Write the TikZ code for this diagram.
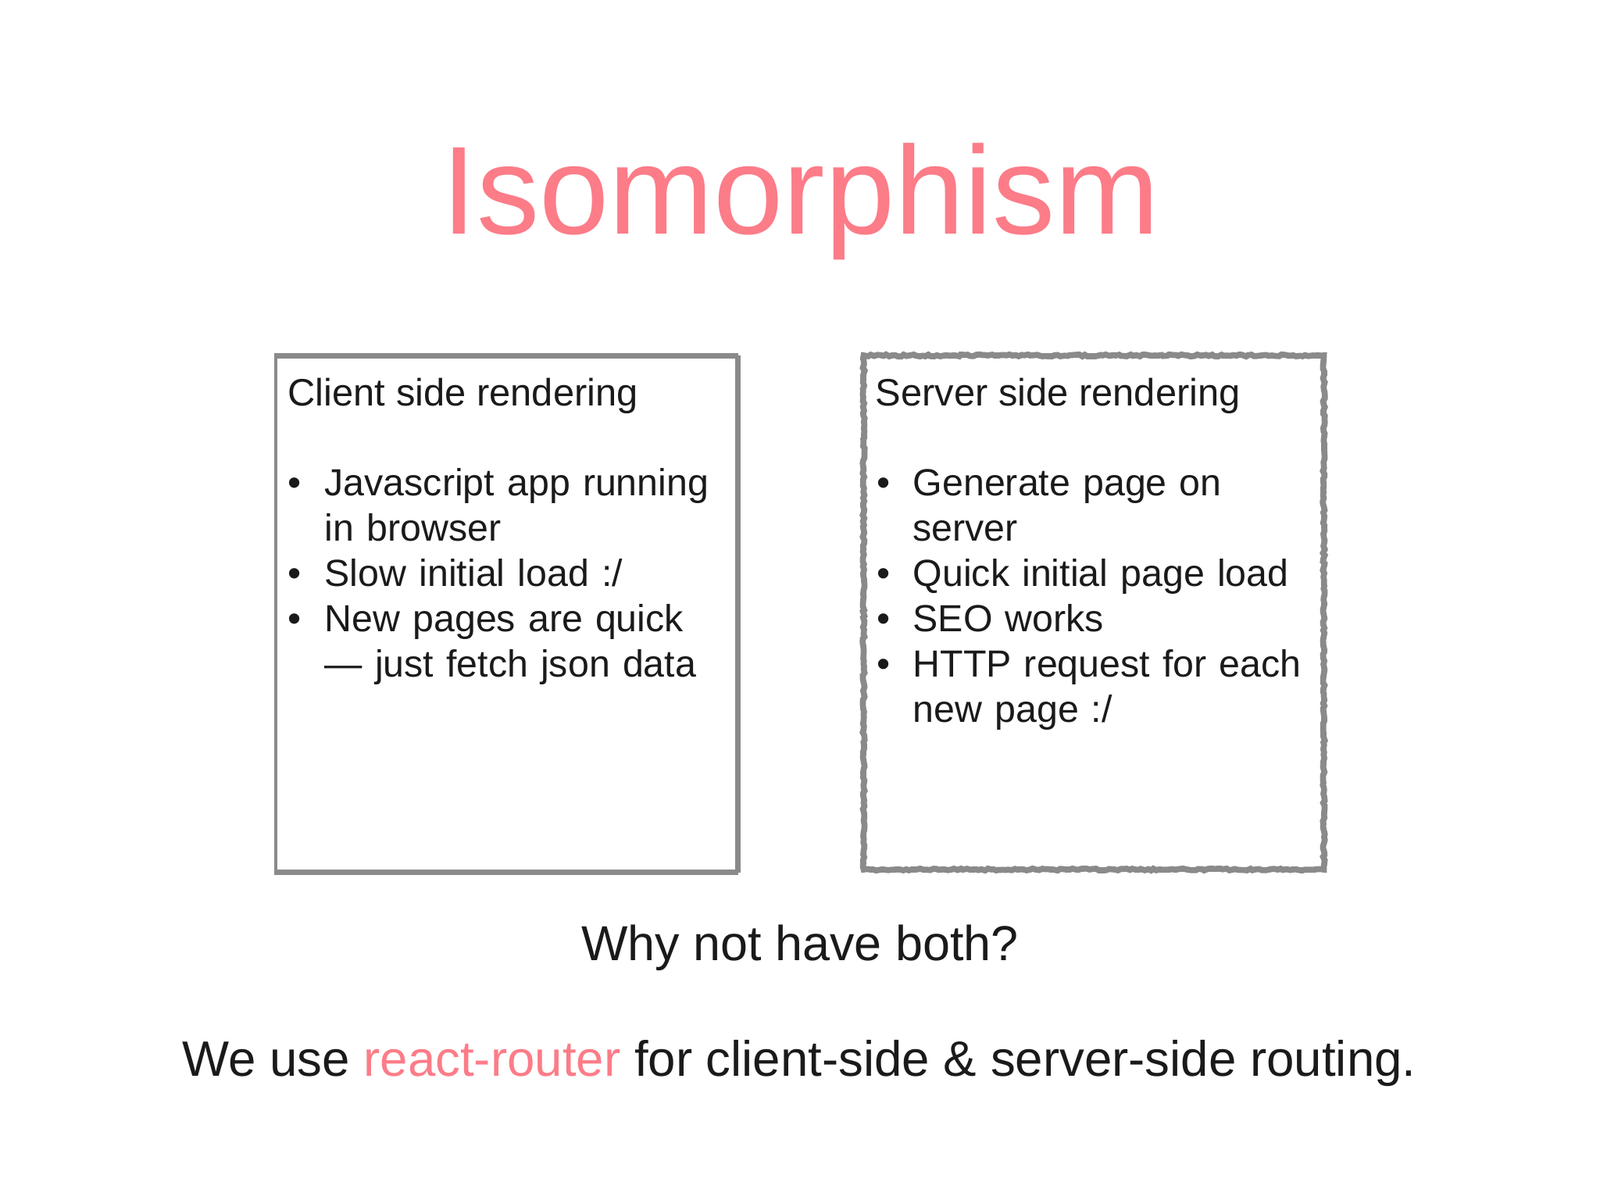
\documentclass[tikz,border=0pt]{standalone}
\usepackage{fontspec}
\setmainfont{Liberation Sans}
\usetikzlibrary{decorations.pathmorphing}
\definecolor{salmon}{HTML}{FC7C88}
\definecolor{boxgray}{HTML}{8A8A8A}
\definecolor{ink}{HTML}{1A1A1A}
\tikzset{
    line/.style={inner sep=0pt, anchor=base west, text=ink, font=\fontsize{13.9}{16.5}\selectfont},
    item/.style={line, text width=6cm, align=left, font=\fontsize{13.75}{16.5}\selectfont},
    big/.style={inner sep=0pt, anchor=base, text=ink, font=\fontsize{17.9}{21}\selectfont},
    box/.style={draw=boxgray, inner sep=0pt, minimum width=#1, minimum height=6.58cm},
    rough/.style={decorate, decoration={random steps, segment length=1.1pt, amplitude=.35pt}}
}
\begin{document}
\begin{tikzpicture}
    \useasboundingbox (0,0) rectangle (20.48,15.36);
    \node [inner sep=0pt, anchor=base, text=salmon, font=\fontsize{45.65}{50}\selectfont] (title) at (10.25,12.36) {Isomorphism};

    \node [box=5.90cm, line width=1.1pt] (client) at (6.48,7.50) {};
    \draw [boxgray, line width=2pt] (client.north east) -- (client.south east);
    \draw [boxgray, line width=1.8pt] (client.south west) -- (client.south east);
    \draw [boxgray, line width=1.6pt] (client.north west) -- (client.north east);
    \node [line] (clienthead) at (3.68,10.16) {Client side rendering};
    \node [line] (b1) at (3.68,9.01) {•};
    \node [item] (c1) at (4.15,9.01) {Javascript app running\\in browser};
    \node [line] (b2) at (3.68,7.85) {•};
    \node [item] (c2) at (4.15,7.85) {Slow initial load :/};
    \node [line] (b3) at (3.68,7.27) {•};
    \node [item] (c3) at (4.15,7.27) {New pages are quick\\— just fetch json data};

    \node [box=5.89cm, line width=2.2pt, rough] (server) at (14.00,7.52) {};
    \node [line] (serverhead) at (11.20,10.16) {Server side rendering};
    \node [line] (b4) at (11.22,9.01) {•};
    \node [item] (s1) at (11.68,9.01) {Generate page on\\server};
    \node [line] (b5) at (11.22,7.85) {•};
    \node [item] (s2) at (11.68,7.85) {Quick initial page load};
    \node [line] (b6) at (11.22,7.27) {•};
    \node [item] (s3) at (11.68,7.27) {SEO works};
    \node [line] (b7) at (11.22,6.69) {•};
    \node [item] (s4) at (11.68,6.69) {HTTP request for each\\new page :/};

    \node [big] (why) at (10.24,3.06) {Why not have both?};
    \node [big, font=\fontsize{18.1}{21}\selectfont] (router) at (10.23,1.58) {We use \textcolor{salmon}{react-router} for client-side \& server-side routing.};
\end{tikzpicture}
\end{document}
